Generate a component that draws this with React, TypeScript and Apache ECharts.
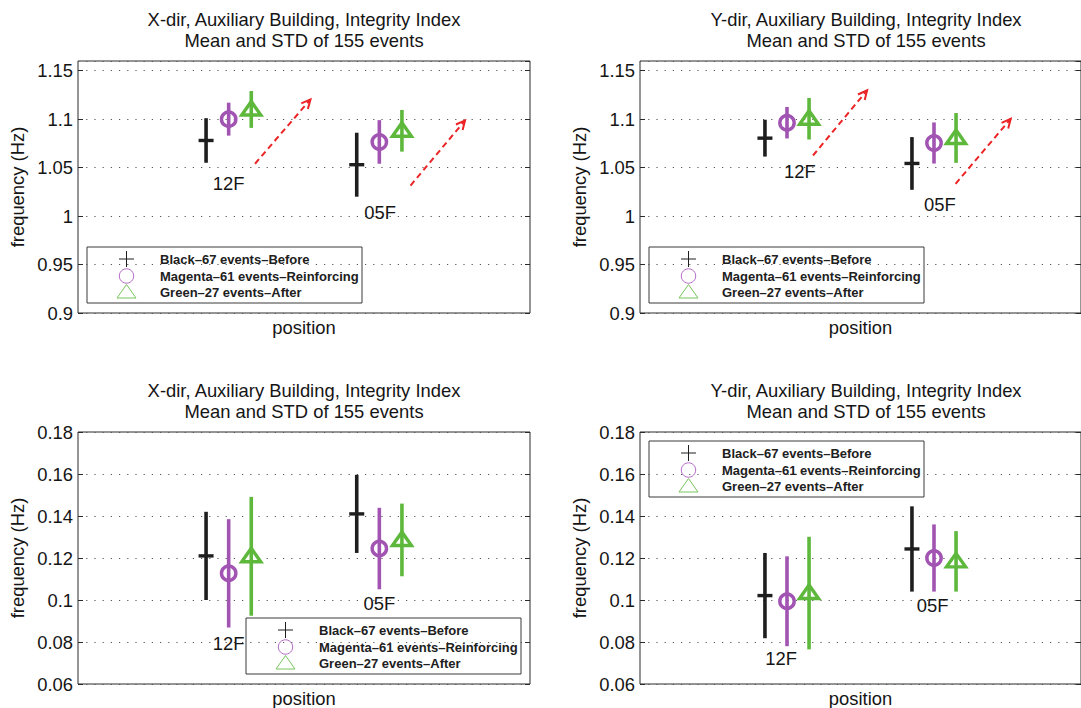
import React, { useEffect, useRef } from "react";
import * as echarts from "echarts";

const FONT = "'Liberation Sans', Arial, Helvetica, sans-serif";

// Floors along the position axis
const FLOORS = ["12F", "05F"];
const FLOOR_POS = [1, 2];
// Horizontal shift of the three event groups: Before, Reinforcing, After
const GROUP_SHIFT = [-0.15, 0, 0.15];

// [mean, std] for 12F and 05F
const X_UPPER_BEFORE = [[1.078, 0.023], [1.053, 0.033]];
const X_UPPER_REINF = [[1.1, 0.017], [1.0765, 0.0225]];
const X_UPPER_AFTER = [[1.11, 0.019], [1.088, 0.0215]];

const Y_UPPER_BEFORE = [[1.0804, 0.019], [1.0543, 0.0272]];
const Y_UPPER_REINF = [[1.0963, 0.0162], [1.0754, 0.0212]];
const Y_UPPER_AFTER = [[1.1004, 0.0214], [1.0806, 0.0257]];

const X_LOWER_BEFORE = [[0.121, 0.021], [0.141, 0.0186]];
const X_LOWER_REINF = [[0.1127, 0.0258], [0.1245, 0.0194]];
const X_LOWER_AFTER = [[0.1208, 0.0283], [0.1286, 0.0173]];

const Y_LOWER_BEFORE = [[0.1021, 0.0203], [0.1243, 0.0203]];
const Y_LOWER_REINF = [[0.0994, 0.0214], [0.12, 0.016]];
const Y_LOWER_AFTER = [[0.1033, 0.0268], [0.1184, 0.0144]];

// Trend arrows [x0, y0, x1, y1]
const X_ARROWS = [[1.175, 1.054, 1.543, 1.1204], [2.207, 1.0315, 2.569, 1.0987]];
const Y_ARROWS = [[1.177, 1.0625, 1.545, 1.1297], [2.147, 1.0333, 2.522, 1.1004]];

// Floor tag anchors [x, y]
const X_UPPER_TAGS = [[1.0, 1.034], [2.005, 1.004]];
const Y_UPPER_TAGS = [[1.087, 1.0464], [2.04, 1.0119]];
const X_LOWER_TAGS = [[1.0, 0.0793], [2.0, 0.0984]];
const Y_LOWER_TAGS = [[0.96, 0.0722], [1.99, 0.0973]];

// Frequency axis ranges
const UPPER_RANGE = { min: 0.9, max: 1.16, interval: 0.05 };
const LOWER_RANGE = { min: 0.06, max: 0.18, interval: 0.02 };

const TITLE_LINE_2 = "Mean and STD of 155 events";
const LEGEND_LABELS = [
  "Black\u201367 events\u2013Before",
  "Magenta\u201361 events\u2013Reinforcing",
  "Green\u201327 events\u2013After",
];

const BLACK = "#1e1e1e";
const MAGENTA = "#a154b2";
const GREEN = "#5db83c";
const RED = "#ec2426";
const GROUP_COLORS = [BLACK, MAGENTA, GREEN];

const TEXT_SIZE = 18.4;
const BOX_W = 452;
const BOX_H = 252;

const PANELS = [
  {
    title: "X-dir, Auxiliary Building, Integrity Index",
    grid: { left: 78, top: 61, width: BOX_W, height: BOX_H },
    range: UPPER_RANGE,
    groups: [X_UPPER_BEFORE, X_UPPER_REINF, X_UPPER_AFTER],
    arrows: X_ARROWS,
    tags: X_UPPER_TAGS,
    legend: [87, 247],
  },
  {
    title: "Y-dir, Auxiliary Building, Integrity Index",
    grid: { left: 640, top: 61, width: BOX_W, height: BOX_H },
    range: UPPER_RANGE,
    groups: [Y_UPPER_BEFORE, Y_UPPER_REINF, Y_UPPER_AFTER],
    arrows: Y_ARROWS,
    tags: Y_UPPER_TAGS,
    legend: [649, 247],
  },
  {
    title: "X-dir, Auxiliary Building, Integrity Index",
    grid: { left: 78, top: 432, width: BOX_W, height: BOX_H },
    range: LOWER_RANGE,
    groups: [X_LOWER_BEFORE, X_LOWER_REINF, X_LOWER_AFTER],
    arrows: [],
    tags: X_LOWER_TAGS,
    legend: [246, 618],
  },
  {
    title: "Y-dir, Auxiliary Building, Integrity Index",
    grid: { left: 640, top: 432, width: BOX_W, height: BOX_H },
    range: LOWER_RANGE,
    groups: [Y_LOWER_BEFORE, Y_LOWER_REINF, Y_LOWER_AFTER],
    arrows: [],
    tags: Y_LOWER_TAGS,
    legend: [649, 441],
  },
];

function markerShape(kind: number, cx: number, cy: number, color: string, lw: number) {
  if (kind === 0) {
    return [
      {
        type: "line",
        shape: { x1: cx - 7.5, y1: cy, x2: cx + 7.5, y2: cy },
        style: { stroke: color, lineWidth: lw },
      },
    ];
  }
  if (kind === 1) {
    return [
      {
        type: "circle",
        shape: { cx, cy, r: 7.2 },
        style: { stroke: color, lineWidth: lw, fill: "none" },
      },
    ];
  }
  return [
    {
      type: "polygon",
      shape: {
        points: [
          [cx, cy - 8],
          [cx + 9.5, cy + 5.5],
          [cx - 9.5, cy + 5.5],
        ],
      },
      style: { stroke: color, lineWidth: lw, fill: "none", lineJoin: "miter" },
    },
  ];
}

function errorBarRenderer(kind: number) {
  return (_params: any, api: any) => {
    const x = api.value(0);
    const m = api.value(1);
    const s = api.value(2);
    const hi = api.coord([x, m + s]);
    const lo = api.coord([x, m - s]);
    const c = api.coord([x, m]);
    const color = GROUP_COLORS[kind];
    return {
      type: "group",
      children: [
        {
          type: "line",
          shape: { x1: hi[0], y1: hi[1], x2: lo[0], y2: lo[1] },
          style: { stroke: color, lineWidth: 3.6 },
        },
        ...markerShape(kind, c[0], c[1], color, 3.4),
      ],
    };
  };
}

function arrowRenderer(_params: any, api: any) {
  const a = api.coord([api.value(0), api.value(1)]);
  const b = api.coord([api.value(2), api.value(3)]);
  const ang = Math.atan2(b[1] - a[1], b[0] - a[0]);
  const L = 10;
  const spread = 0.45;
  const w1 = [b[0] - L * Math.cos(ang - spread), b[1] - L * Math.sin(ang - spread)];
  const w2 = [b[0] - L * Math.cos(ang + spread), b[1] - L * Math.sin(ang + spread)];
  return {
    type: "group",
    children: [
      {
        type: "line",
        shape: { x1: a[0], y1: a[1], x2: b[0], y2: b[1] },
        style: { stroke: RED, lineWidth: 2, lineDash: [6, 4] },
      },
      {
        type: "polyline",
        shape: { points: [w1, b, w2] },
        style: { stroke: RED, lineWidth: 2, fill: "none" },
      },
    ],
  };
}

function tagRenderer(params: any, api: any) {
  const p = api.coord([api.value(0), api.value(1)]);
  return {
    type: "text",
    x: p[0],
    y: p[1],
    style: {
      text: FLOORS[params.dataIndex],
      font: `${TEXT_SIZE}px ${FONT}`,
      fill: "#151515",
      align: "center",
      verticalAlign: "middle",
    },
  };
}

function legendGraphic(pos: number[]) {
  const rowY = [12, 29, 45.5];
  const mx = 39.5;
  const children: any[] = [
    {
      type: "rect",
      shape: { x: 0, y: 0, width: 275, height: 56 },
      style: { fill: "#ffffff", stroke: "#3a3a3a", lineWidth: 1 },
    },
  ];
  const thinColors = [BLACK, "#b46ac6", "#79c55c"];
  rowY.forEach((ry, k) => {
    if (k === 0) {
      children.push(
        { type: "line", shape: { x1: mx - 7.5, y1: ry, x2: mx + 7.5, y2: ry }, style: { stroke: thinColors[0], lineWidth: 1 } },
        { type: "line", shape: { x1: mx, y1: ry - 8, x2: mx, y2: ry + 8 }, style: { stroke: thinColors[0], lineWidth: 1 } }
      );
    } else {
      children.push(...markerShape(k, mx, ry, thinColors[k], 1));
    }
    children.push({
      type: "text",
      x: 73,
      y: ry,
      style: {
        text: LEGEND_LABELS[k],
        font: `bold 13px ${FONT}`,
        fill: "#202020",
        align: "left",
        verticalAlign: "middle",
      },
    });
  });
  return { type: "group", x: pos[0], y: pos[1], z: 100, children };
}

function buildOption() {
  const grid: any[] = [];
  const xAxis: any[] = [];
  const yAxis: any[] = [];
  const series: any[] = [];
  const graphic: any[] = [];

  PANELS.forEach((p, i) => {
    grid.push({ ...p.grid, show: true, borderColor: "#2a2a2a", borderWidth: 1, backgroundColor: "transparent" });
    xAxis.push({
      type: "value",
      gridIndex: i,
      min: 0,
      max: 3,
      axisLine: { show: false },
      axisTick: { show: false },
      axisLabel: { show: false },
      splitLine: { show: false },
      name: "position",
      nameLocation: "middle",
      nameGap: 5,
      nameTextStyle: { fontSize: TEXT_SIZE, color: "#151515", fontFamily: FONT, verticalAlign: "top" },
    });
    const common = {
      type: "value",
      gridIndex: i,
      min: p.range.min,
      max: p.range.max,
      interval: p.range.interval,
      axisLine: { show: false },
      axisTick: { show: true, inside: true, length: 5, lineStyle: { color: "#2a2a2a", width: 1 } },
    };
    yAxis.push({
      ...common,
      position: "left",
      axisLabel: { fontSize: TEXT_SIZE, color: "#151515", fontFamily: FONT, margin: 5, showMaxLabel: p.range.max === 0.18 },
      splitLine: { show: true, lineStyle: { color: "#555", width: 1.2, type: [1.2, 7] } },
      name: "frequency (Hz)",
      nameLocation: "middle",
      nameRotate: 90,
      nameGap: 52,
      nameTextStyle: { fontSize: TEXT_SIZE, color: "#151515", fontFamily: FONT },
    });
    yAxis.push({
      ...common,
      position: "right",
      axisLabel: { show: false },
      splitLine: { show: false },
    });

    p.groups.forEach((rows, g) => {
      series.push({
        type: "custom",
        name: LEGEND_LABELS[g],
        xAxisIndex: i,
        yAxisIndex: 2 * i,
        clip: false,
        z: 3,
        data: rows.map((r, k) => [FLOOR_POS[k] + GROUP_SHIFT[g], r[0], r[1]]),
        renderItem: errorBarRenderer(g),
      });
    });
    if (p.arrows.length) {
      series.push({
        type: "custom",
        xAxisIndex: i,
        yAxisIndex: 2 * i,
        clip: false,
        z: 2,
        data: p.arrows,
        renderItem: arrowRenderer,
      });
    }
    series.push({
      type: "custom",
      xAxisIndex: i,
      yAxisIndex: 2 * i,
      clip: false,
      z: 4,
      data: p.tags,
      renderItem: tagRenderer,
    });

    const cx = p.grid.left + p.grid.width / 2;
    graphic.push(
      {
        type: "text",
        x: cx,
        y: p.grid.top - 42,
        z: 100,
        style: { text: p.title, font: `${TEXT_SIZE}px ${FONT}`, fill: "#151515", align: "center", verticalAlign: "middle" },
      },
      {
        type: "text",
        x: cx,
        y: p.grid.top - 20.5,
        z: 100,
        style: { text: TITLE_LINE_2, font: `${TEXT_SIZE}px ${FONT}`, fill: "#151515", align: "center", verticalAlign: "middle" },
      },
      legendGraphic(p.legend)
    );
  });

  return {
    animation: false,
    backgroundColor: "#ffffff",
    textStyle: { fontFamily: FONT },
    grid,
    xAxis,
    yAxis,
    series,
    graphic,
  };
}

export default function App() {
  const ref = useRef<HTMLDivElement>(null);
  useEffect(() => {
    if (!ref.current) return;
    const chart = echarts.init(ref.current, undefined, { renderer: "svg" });
    chart.setOption(buildOption() as any);
    return () => chart.dispose();
  }, []);
  return (
    <div
      ref={ref}
      style={{ position: "fixed", left: 0, top: 0, width: 1081, height: 708, background: "#fff" }}
    />
  );
}
